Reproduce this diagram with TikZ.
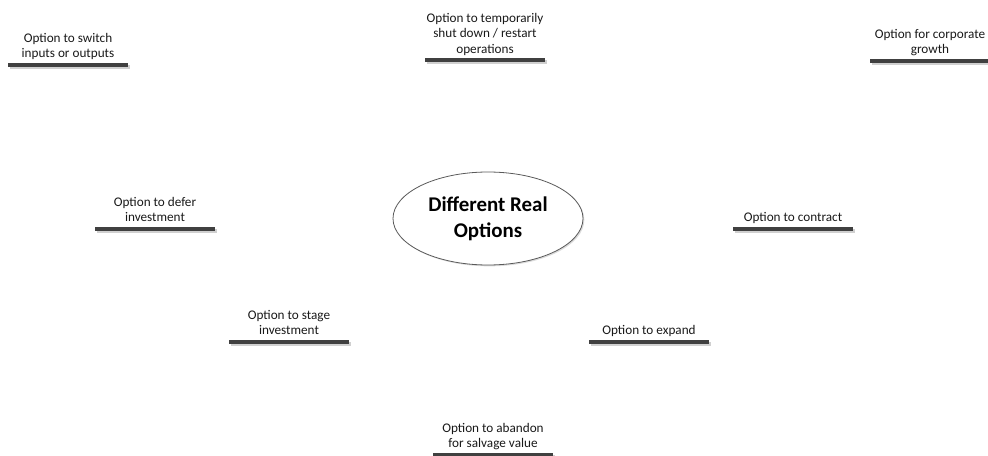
\documentclass[tikz,border=0pt]{standalone}
\usepackage{fontspec}
\setmainfont{Carlito}
\usetikzlibrary{calc,shapes.geometric,shadows}
\definecolor{barcol}{HTML}{404040}
\definecolor{barshade}{HTML}{D0D0D0}
\definecolor{ellline}{HTML}{5A5A5A}
\tikzset{
  opt/.style={anchor=south, inner sep=0pt, align=center, text=black!90,
    font=\fontsize{9.9}{11.6}\selectfont},
  barline/.style={line width=3pt, draw=barcol},
  barshadow/.style={line width=3pt, draw=barshade},
  hub/.style={ellipse, draw=ellline, line width=0.6pt, fill=white,
    minimum width=142.5pt, minimum height=69.75pt, inner sep=0pt, align=center,
    font=\fontsize{15.7}{19.5}\selectfont\bfseries,
    drop shadow={shadow xshift=1pt, shadow yshift=-1pt, opacity=0.35, fill=black!40}},
}
\newcommand{\optbar}[1]{%
  \draw[barshadow] ($(#1.south)+(-58,4.4)$) -- ++(120,0);
  \draw[barline] ($(#1.south)+(-60,2.4)$) -- ++(120,0);}
\begin{document}
\begin{tikzpicture}[x=0.75pt,y=-0.75pt]
\useasboundingbox (0,0) rectangle (988,456);
\node[hub] (c) at (488,218.5) {Different Real\\Options};

\node[opt] (o1) at (68,62.6) {Option to switch\\inputs or outputs\strut};
\node[opt] (o2) at (485,58.1) {Option to temporarily\\shut down / restart\\operations\strut};
\node[opt] (o3) at (930,58.6) {Option for corporate\\growth\strut};
\node[opt] (o4) at (155,226.6) {Option to defer\\investment\strut};
\node[opt] (o5) at (793,226.6) {Option to contract\strut};
\node[opt] (o6) at (289,339.6) {Option to stage\\investment\strut};
\node[opt] (o7) at (649,339.6) {Option to expand\strut};
\node[opt] (o8) at (493,452.6) {Option to abandon\\for salvage value\strut};

\optbar{o1}
\optbar{o2}
\optbar{o3}
\optbar{o4}
\optbar{o5}
\optbar{o6}
\optbar{o7}
\optbar{o8}
\end{tikzpicture}
\end{document}
